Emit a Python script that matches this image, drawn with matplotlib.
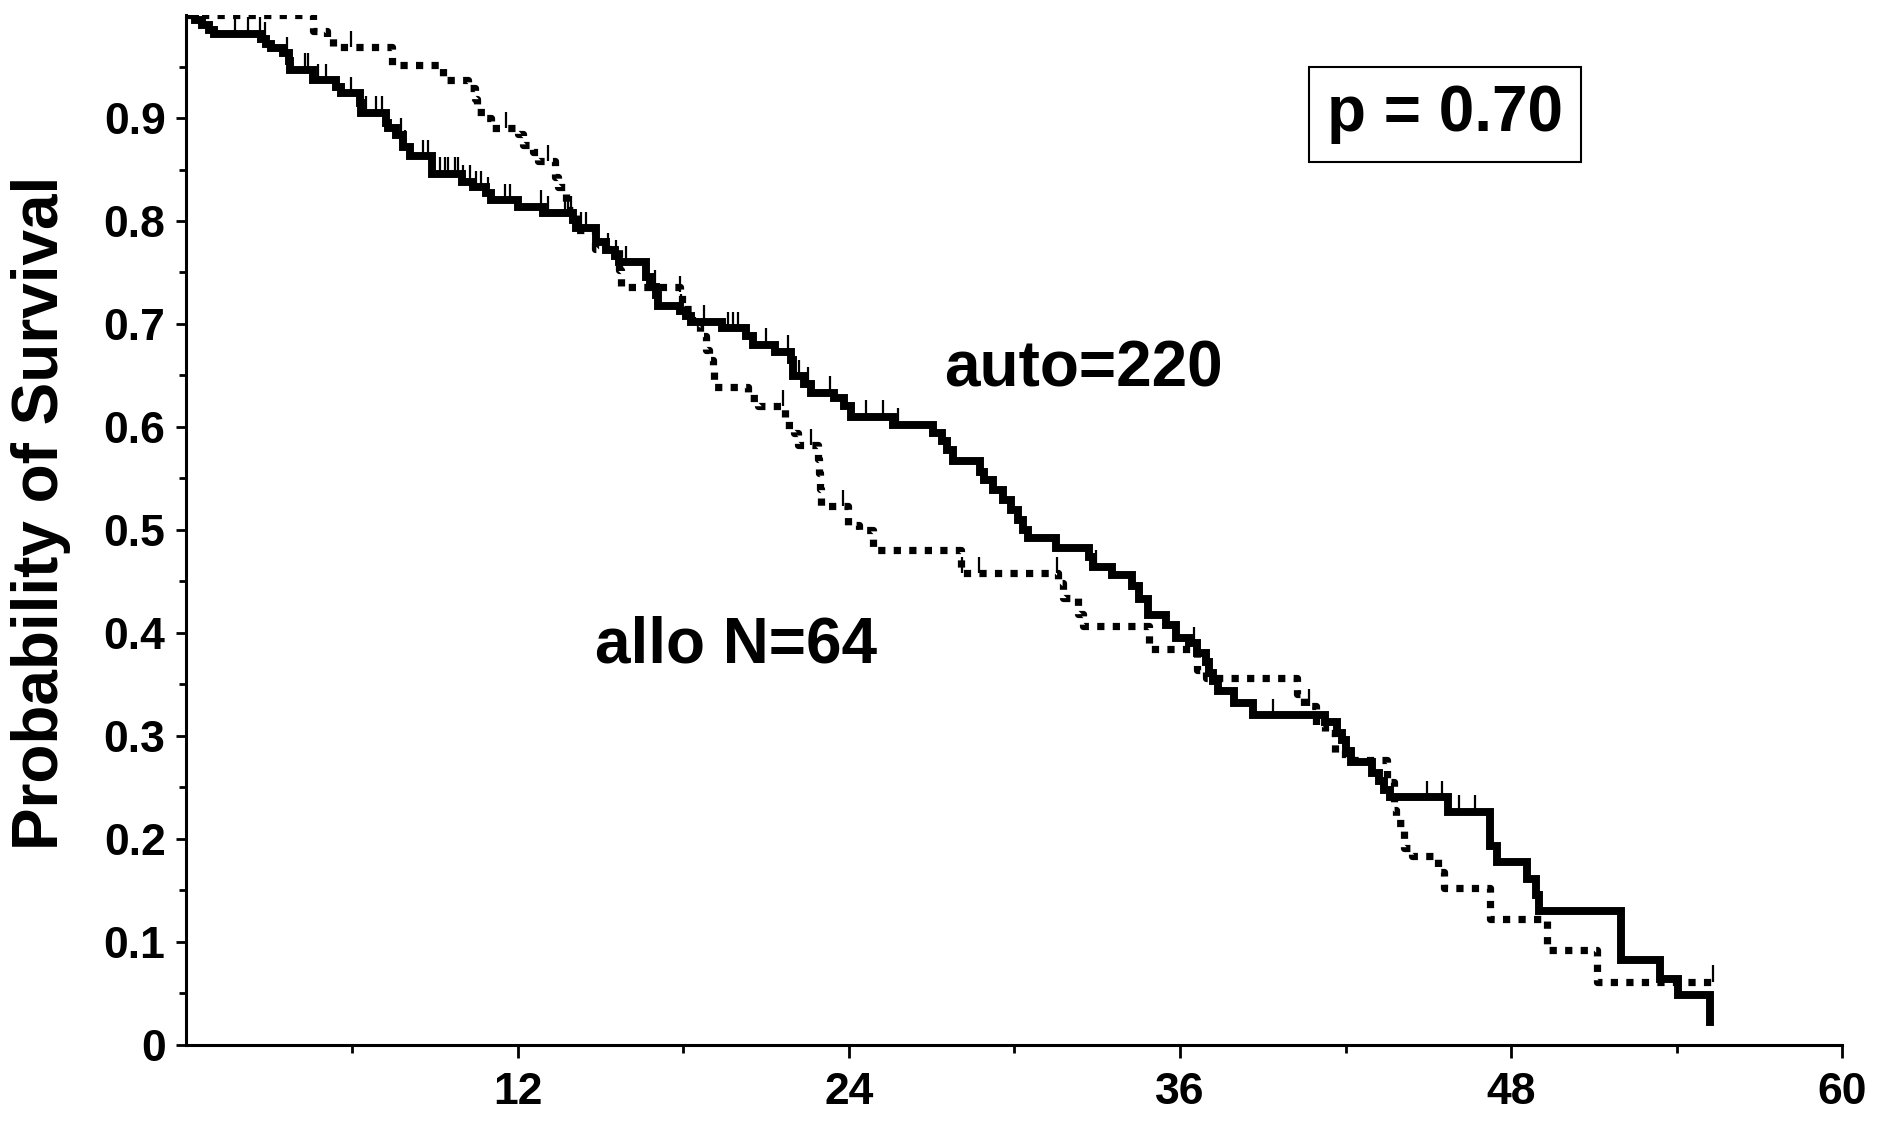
import matplotlib
matplotlib.use("Agg")
import matplotlib.pyplot as plt
import numpy as np

plt.rcParams['font.family'] = ['Liberation Sans', 'DejaVu Sans']
plt.rcParams['font.weight'] = 'bold'

# Kaplan-Meier steps (months, probability after the step)
auto_t = [0, 0.3, 0.55, 0.8, 1.0, 2.7, 2.9, 3.05, 3.5, 3.7, 3.75, 4.6, 5.43, 5.6,
          6.28, 6.34, 7.22, 7.3, 7.61, 7.85, 8.09, 8.88, 10.0, 10.39, 10.87, 11.05,
          12.0, 12.92, 14.0, 14.13, 14.85, 15.21, 15.51, 15.69, 16.66, 16.78, 17.02,
          17.08, 17.87, 18.11, 18.29, 19.4, 20.28, 20.52, 21.31, 21.91, 21.97, 22.39,
          22.64, 23.48, 23.84, 24.08, 25.59, 27.06, 27.38, 27.54, 27.78, 28.76, 28.91,
          29.21, 29.57, 29.87, 30.12, 30.30, 30.48, 31.50, 32.71, 32.83, 33.52, 34.25,
          34.50, 34.85, 35.5, 35.85, 36.33, 36.63, 36.94, 37.06, 37.18, 37.36, 37.96,
          38.63, 41.26, 41.69, 41.85, 42.0, 42.2, 42.97, 43.22, 43.39, 43.6, 45.69,
          47.22, 47.48, 48.58, 48.9, 49.0, 51.98, 53.4, 54.04, 55.2]
auto_s = [1.0, 0.995, 0.99, 0.986, 0.982, 0.977, 0.972, 0.968, 0.963, 0.955, 0.947,
          0.937, 0.930, 0.924, 0.915, 0.905, 0.895, 0.890, 0.884, 0.872, 0.863, 0.846,
          0.838, 0.833, 0.827, 0.820, 0.814, 0.808, 0.801, 0.793, 0.780, 0.772, 0.766,
          0.760, 0.746, 0.736, 0.728, 0.717, 0.713, 0.708, 0.702, 0.696, 0.688, 0.680,
          0.673, 0.665, 0.649, 0.642, 0.633, 0.628, 0.620, 0.610, 0.602, 0.594, 0.586,
          0.578, 0.567, 0.556, 0.548, 0.539, 0.529, 0.519, 0.510, 0.500, 0.492, 0.482,
          0.474, 0.464, 0.456, 0.445, 0.433, 0.417, 0.408, 0.395, 0.390, 0.380, 0.372,
          0.361, 0.353, 0.343, 0.332, 0.320, 0.313, 0.303, 0.296, 0.285, 0.274, 0.264,
          0.256, 0.247, 0.240, 0.226, 0.193, 0.177, 0.161, 0.145, 0.130, 0.082, 0.064,
          0.048, 0.022]
auto_cens = [1.76, 2.24, 2.66, 2.84, 3.63, 4.29, 4.41, 4.77, 5.07, 5.98, 6.52, 6.88,
             7.07, 7.79, 7.91, 8.57, 8.76, 9.18, 9.36, 9.48, 9.72, 9.84, 10.02, 10.26,
             10.5, 10.69, 10.93, 11.53, 11.71, 12.86, 13.1, 13.7, 13.82, 13.94, 14.3,
             14.49, 15.27, 15.57, 15.93, 16.96, 17.93, 18.77, 19.62, 19.8, 19.98, 21.0,
             21.79, 22.21, 22.51, 23.3, 24.63, 25.23, 25.77, 32.95, 34.58, 36.5, 39.35,
             44.96, 45.5, 46.1, 46.7]

allo_t = [0, 4.6, 5.1, 5.3, 7.45, 9.30, 10.21, 10.45, 10.51, 10.81, 11.05, 12.02,
          12.20, 12.56, 12.74, 13.34, 13.46, 13.76, 14.12, 14.79, 15.69, 15.75, 17.87,
          17.95, 18.3, 18.59, 18.83, 18.95, 19.07, 19.13, 20.34, 20.70, 21.7, 22.03,
          22.15, 22.87, 22.93, 22.96, 23.0, 23.96, 24.38, 24.86, 28.06, 31.56, 31.75,
          32.29, 32.47, 34.88, 36.6, 36.94, 40.24, 40.5, 40.92, 41.26, 41.6, 42.0,
          43.5, 43.75, 43.81, 44.12, 44.42, 45.33, 45.55, 47.22, 49.3, 51.1, 55.3]
allo_s = [1.0, 0.985, 0.978, 0.969, 0.952, 0.937, 0.929, 0.919, 0.906, 0.900, 0.890,
          0.885, 0.874, 0.867, 0.858, 0.843, 0.833, 0.811, 0.791, 0.773, 0.752, 0.736,
          0.731, 0.715, 0.700, 0.688, 0.675, 0.665, 0.655, 0.639, 0.628, 0.620, 0.602,
          0.594, 0.582, 0.569, 0.555, 0.540, 0.523, 0.505, 0.500, 0.480, 0.458, 0.448,
          0.434, 0.418, 0.407, 0.384, 0.364, 0.356, 0.341, 0.329, 0.309, 0.303, 0.282,
          0.276, 0.255, 0.228, 0.215, 0.191, 0.183, 0.168, 0.152, 0.122, 0.092, 0.061,
          0.061]
allo_cens = [5.98, 11.59, 13.1, 17.9, 21.6, 22.63, 23.78, 28.1, 28.73, 31.54, 40.68, 55.3]

y_ticks = [0, 0.1, 0.2, 0.3, 0.4, 0.5, 0.6, 0.7, 0.8, 0.9]
y_labels = ['0', '0.1', '0.2', '0.3', '0.4', '0.5', '0.6', '0.7', '0.8', '0.9']
x_ticks = [12, 24, 36, 48, 60]


def surv_at(times, surv, c):
    idx = np.searchsorted(times, c, side='right') - 1
    return np.array(surv)[idx]


fig = plt.figure(figsize=(18.87, 11.21), dpi=100)
ax = fig.add_axes([0.0988, 0.0682, 0.8776, 0.9183])

ax.step(auto_t, auto_s, where='post', color='black', lw=5.7, solid_joinstyle='miter')
ax.step(allo_t, allo_s, where='post', color='black', lw=5.2,
        linestyle=(0, (1, 1.15)), dash_capstyle='butt')

# censor marks
ca = surv_at(auto_t, auto_s, auto_cens)
ax.vlines(auto_cens, ca, ca + 0.016, color='black', lw=1.6)
cb = surv_at(allo_t, allo_s, allo_cens)
ax.vlines(allo_cens, cb, cb + 0.016, color='black', lw=1.6)

ax.set_xlim(0, 60)
ax.set_ylim(0, 1.0)
ax.set_xticks(x_ticks)
ax.set_xticks([6, 18, 30, 42, 54], minor=True)
ax.set_yticks(y_ticks)
ax.set_yticklabels(y_labels)
ax.set_yticks(np.arange(0.05, 1.0, 0.1), minor=True)

for side in ['top', 'right']:
    ax.spines[side].set_visible(False)
for side in ['left', 'bottom']:
    ax.spines[side].set_linewidth(2.2)

ax.tick_params(axis='both', which='both', direction='out', width=2, labelsize=32)
ax.tick_params(axis='y', which='major', length=7, pad=8)
ax.tick_params(axis='y', which='minor', length=5)
ax.tick_params(axis='x', which='major', length=9.5, pad=10)
ax.tick_params(axis='x', which='minor', length=6)

ax.set_ylabel('Probability of Survival', fontsize=46, fontweight='bold', va='center')
ax.yaxis.set_label_coords(-0.088, 0.516)

ax.text(32.5, 0.639, 'auto=220', fontsize=46, fontweight='bold', ha='center', va='baseline')
ax.text(19.9, 0.371, 'allo N=64', fontsize=46, fontweight='bold', ha='center', va='baseline')
ax.text(45.6, 0.887, 'p = 0.70', fontsize=46, fontweight='bold', ha='center', va='baseline',
        bbox=dict(boxstyle='square,pad=0.28', facecolor='white', edgecolor='black', lw=1.5))

fig.savefig('out.png', dpi=100, facecolor='white')
